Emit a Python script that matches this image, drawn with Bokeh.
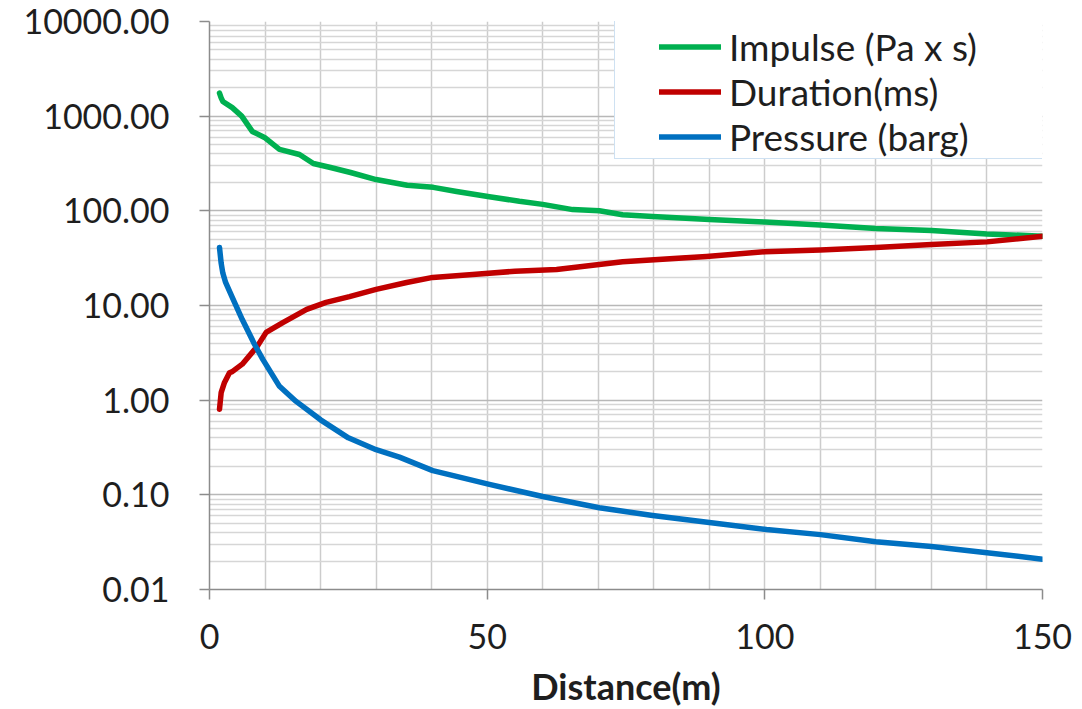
from bokeh.plotting import figure
from bokeh.models import (Range1d, FixedTicker, PrintfTickFormatter, Legend, LegendItem)
from bokeh.core.properties import value
from bokeh.embed import file_html
from bokeh.resources import INLINE

# ---- data ----
impulse_x = [1.8, 2.1, 2.4, 4.1, 5.8, 7.7, 9.9, 12.6, 16.2, 18.7, 21.8, 25.4, 30, 35.6, 40.3, 44.5,
             50.4, 55.8, 60, 65.4, 70.2, 74.4, 79.8, 90, 100, 110, 120, 130, 140, 150]
impulse_y = [1750, 1560, 1430, 1230, 1000, 690, 596, 445, 394, 316, 287, 254, 214, 186, 177, 160,
             141, 126, 117, 103, 100, 91, 87, 81, 76, 71, 65, 62, 57, 54]

duration_x = [1.8, 2.1, 2.7, 3.6, 4.1, 5.9, 8.6, 10.2, 13.2, 17.5, 21, 25.2, 30, 35.5, 40.2, 47.4, 55,
              62.5, 74.4, 89.5, 100, 110, 120, 130, 140, 150]
duration_y = [0.8, 1.2, 1.54, 1.95, 2.0, 2.4, 3.7, 5.2, 6.6, 9.1, 10.8, 12.4, 14.8, 17.5, 19.8, 21.3, 23,
              24, 29, 33, 37, 38.5, 41, 44, 47, 54]

pressure_x = [1.8, 2.1, 2.4, 2.9, 4.1, 5.9, 8.1, 9.6, 12.6, 15.6, 20, 25, 30, 34.2, 40.2, 50.4, 60,
              70.2, 79.8, 90, 100.3, 110, 120, 130, 140, 150]
pressure_y = [41, 28, 22, 17.5, 12.2, 7.1, 3.9, 2.7, 1.4, 0.97, 0.62, 0.40, 0.30, 0.25, 0.18, 0.129,
              0.096, 0.073, 0.0605, 0.051, 0.043, 0.038, 0.032, 0.0284, 0.0245, 0.0209]

series_labels = ["Impulse (Pa x s)", "Duration(ms)", "Pressure (barg)"]
series_colors = ["#00b050", "#c00000", "#0070c0"]

x_ticks = [0, 50, 100, 150]
x_minor = [10, 20, 30, 40, 60, 70, 80, 90, 110, 120, 130, 140]
y_ticks = [0.01, 0.1, 1, 10, 100, 1000, 10000]
y_minor = [m * d for d in y_ticks[:-1] for m in range(2, 10)]
x_title = "Distance(m)"

FONT = "Lato"
TXT = "#1e1e1e"

p = figure(frame_width=833, frame_height=568, y_axis_type="log",
           x_range=Range1d(0, 150), y_range=Range1d(0.01, 10000),
           output_backend="svg", toolbar_location=None,
           min_border_left=209, min_border_top=21, min_border_right=30, min_border_bottom=100)
p.outline_line_color = None
p.background_fill_color = "white"

# axes
p.xaxis.ticker = FixedTicker(ticks=x_ticks, minor_ticks=x_minor)
p.yaxis.ticker = FixedTicker(ticks=y_ticks, minor_ticks=y_minor)
p.yaxis.formatter = PrintfTickFormatter(format="%.2f")
for ax in (p.xaxis[0], p.yaxis[0]):
    ax.axis_line_color = "#8c8c8c"
    ax.axis_line_width = 1.5
    ax.major_tick_line_color = "#8c8c8c"
    ax.major_tick_line_width = 1.5
    ax.major_tick_out = 10
    ax.major_tick_in = 0
    ax.minor_tick_out = 0
    ax.minor_tick_in = 0
    ax.major_label_text_font = FONT
    ax.major_label_text_font_size = "34px"
    ax.major_label_text_color = TXT
p.yaxis.major_label_standoff = 30
p.xaxis.major_label_standoff = 24
p.xaxis.axis_label = x_title
p.xaxis.axis_label_text_font = FONT
p.xaxis.axis_label_text_font_size = "36px"
p.xaxis.axis_label_text_font_style = "bold"
p.xaxis.axis_label_text_color = TXT
p.xaxis.axis_label_standoff = 12

# grids
p.xgrid.grid_line_color = "#cccccc"
p.xgrid.grid_line_width = 1.5
p.xgrid.minor_grid_line_color = "#cccccc"
p.xgrid.minor_grid_line_width = 1.5
p.ygrid.grid_line_color = "#b8b8b8"
p.ygrid.grid_line_width = 1.5
p.ygrid.minor_grid_line_color = "#d6d6d6"
p.ygrid.minor_grid_line_width = 1.3

renderers = []
for xs, ys, c in zip([impulse_x, duration_x, pressure_x],
                     [impulse_y, duration_y, pressure_y], series_colors):
    r = p.line(xs, ys, line_color=c, line_width=5.5, line_cap="round", line_join="round")
    renderers.append(r)

# legend frame (an empty, invisible entry that only sizes the bordered box)
dummy = p.line([], [], line_alpha=0)
frame_legend = Legend(items=[LegendItem(label=value(" "), renderers=[dummy])],
                      location=(405, 430), padding=0, spacing=0, margin=0,
                      glyph_width=1, glyph_height=137, label_width=427, label_height=137,
                      label_standoff=0, label_text_font_size="10px",
                      border_line_color="#9dc3e6", border_line_width=1.5,
                      background_fill_color="white", background_fill_alpha=1.0)
p.add_layout(frame_legend)

legend = Legend(items=[LegendItem(label=l, renderers=[r]) for l, r in zip(series_labels, renderers)],
                location=(450, 430), padding=0, spacing=0, margin=0,
                glyph_width=62, glyph_height=45, label_height=45, label_standoff=8,
                label_text_font=FONT, label_text_font_size="37px", label_text_color=TXT,
                border_line_color=None, background_fill_alpha=0)
p.add_layout(legend)

open("out.html", "w").write(file_html(p, INLINE))
